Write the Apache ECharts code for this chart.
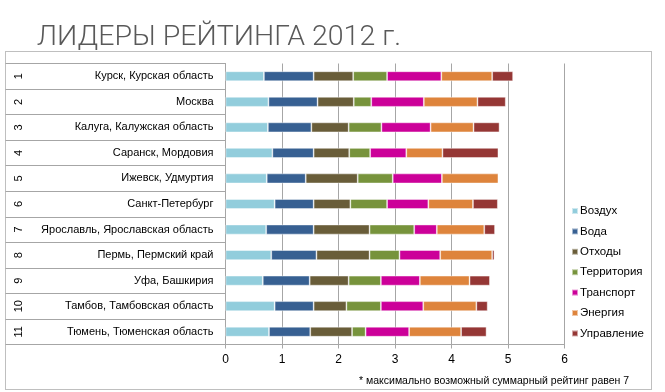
<!DOCTYPE html>
<html><head><meta charset="utf-8">
<script src="https://cdn.jsdelivr.net/npm/echarts@6/dist/echarts.min.js"></script>
<style>
html,body{margin:0;padding:0;background:#fff;}
#wrap{position:relative;width:665px;height:392px;}
#c{position:absolute;left:0;top:0;width:665px;height:392px;}
#frame{position:absolute;left:5px;top:51px;width:645px;height:337px;border:1px solid #BFBFBF;pointer-events:none;}
</style></head>
<body><div id="wrap"><div id="frame"></div><div id="c"></div></div>
<script>
const titleText = "ЛИДЕРЫ РЕЙТИНГА 2012 г.";
const footnote = "* максимально возможный суммарный рейтинг равен 7";
const ranks = ["1","2","3","4","5","6","7","8","9","10","11"];
const cities = ["Курск, Курская область","Москва","Калуга, Калужская область","Саранск, Мордовия","Ижевск, Удмуртия","Санкт-Петербург","Ярославль, Ярославская область","Пермь, Пермский край","Уфа, Башкирия","Тамбов, Тамбовская область","Тюмень, Тюменская область"];
const seriesNames = ["Воздух","Вода","Отходы","Территория","Транспорт","Энергия","Управление"];
const air        = [0.68,0.76,0.75,0.83,0.73,0.87,0.72,0.81,0.66,0.87,0.77];
const water      = [0.88,0.87,0.77,0.73,0.69,0.69,0.84,0.80,0.83,0.69,0.73];
const waste      = [0.70,0.64,0.66,0.63,0.92,0.65,0.99,0.94,0.69,0.58,0.74];
const territory  = [0.60,0.31,0.58,0.37,0.62,0.65,0.79,0.53,0.57,0.61,0.24];
const transport  = [0.96,0.93,0.87,0.64,0.87,0.73,0.40,0.72,0.69,0.75,0.77];
const energy     = [0.90,0.95,0.76,0.64,1.00,0.79,0.84,0.92,0.88,0.94,0.92];
const management = [0.37,0.50,0.46,0.99,null,0.44,0.19,0.04,0.36,0.20,0.45];
const xTicks = [0,1,2,3,4,5,6];

const values = [air,water,waste,territory,transport,energy,management];
const colors = ['#92CDDC','#376092','#695D39','#77933C','#CC0099','#DE843C','#953735'];

const chart = echarts.init(document.getElementById('c'), null, {renderer:'canvas'});
const labelFont = 'Liberation Sans';
chart.setOption({
  animation:false,
  color:colors,
  title:[
    {text:titleText,left:32,top:18,textStyle:{fontFamily:'Roboto',fontWeight:300,fontSize:28.5,color:'#595959'}},
    {text:footnote,left:354,top:371,textStyle:{fontFamily:labelFont,fontWeight:'normal',fontSize:10.5,color:'#000'}}
  ],
  legend:{
    orient:'vertical',left:566,top:200,
    itemWidth:6,itemHeight:6,itemGap:8.4,icon:'rect',
    textStyle:{fontFamily:labelFont,fontSize:11.5,color:'#000',padding:[0,0,0,-3]},
    data:seriesNames
  },
  grid:{left:225.5,top:63.5,width:339,height:281,containLabel:false},
  xAxis:{
    type:'value',min:xTicks[0],max:xTicks[xTicks.length-1],interval:1,
    axisLine:{show:true,lineStyle:{color:'#A6A6A6'}},
    axisTick:{show:true,length:4,lineStyle:{color:'#A6A6A6'}},
    splitLine:{show:true,lineStyle:{color:'#A6A6A6',width:1}},
    axisLabel:{fontFamily:labelFont,fontSize:12,color:'#000',margin:9}
  },
  yAxis:[
    {type:'category',inverse:true,data:cities,
     axisLine:{show:true,lineStyle:{color:'#A6A6A6'}},
     axisTick:{show:true,length:220,lineStyle:{color:'#A6A6A6'}},
     axisLabel:{fontFamily:labelFont,fontSize:11,color:'#000',margin:12}},
    {type:'category',inverse:true,data:ranks,position:'left',offset:195,
     axisLine:{show:false},axisTick:{show:false},
     axisLabel:{rotate:90,fontFamily:labelFont,fontSize:11,color:'#000',margin:6}}
  ],
  series:seriesNames.map((n,i)=>({
    name:n,type:'bar',stack:'total',barWidth:'39%',yAxisIndex:0,
    itemStyle:{color:colors[i],borderColor:'rgba(255,255,255,0.55)',borderWidth:0.8},
    data:values[i]
  }))
});
</script></body></html>
